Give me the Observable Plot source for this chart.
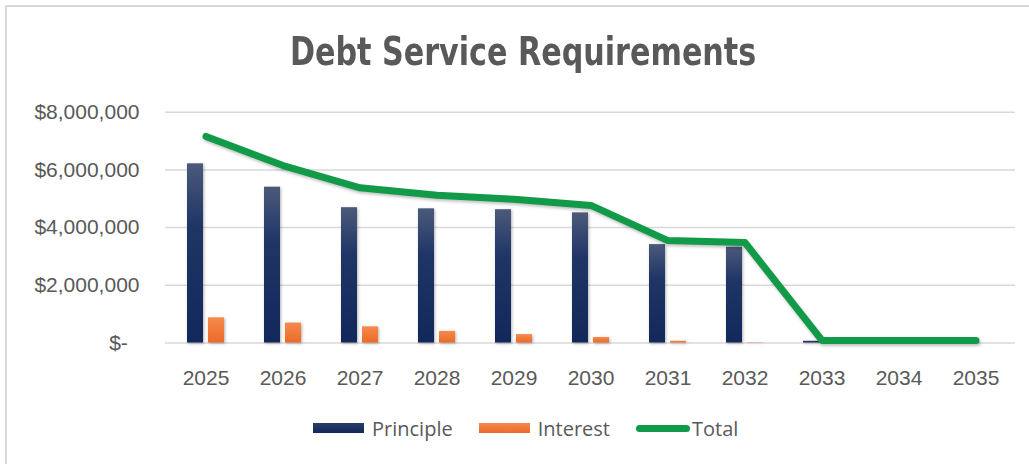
<!DOCTYPE html>
<html>
<head>
<meta charset="utf-8">
<script src="https://cdn.jsdelivr.net/npm/d3@7"></script>
<script src="https://cdn.jsdelivr.net/npm/@observablehq/plot@0.6"></script>
<style>
  html, body { margin: 0; padding: 0; background: #fff; }
  #chart { position: relative; width: 1029px; height: 464px; overflow: hidden; background: #fff; }
  #frame { position: absolute; left: 5px; top: 5px; width: 1100px; height: 600px; border: 2px solid #d9d9d9; box-sizing: border-box; }
  #titlebox { position: absolute; left: 0; top: 26px; width: 1046px; text-align: center; line-height: 52px; }
  #title { display: inline-block; transform: scaleX(0.86); transform-origin: center;
           font-family: "Liberation Sans Narrow", "DejaVu Sans Condensed", "Liberation Sans", sans-serif;
           font-weight: bold; font-size: 39px; color: #595959; }
  #plot { position: absolute; left: 0; top: 95px; }
  #legend { position: absolute; left: 313px; top: 416px; height: 24px; display: flex; align-items: center;
            font-family: "Open Sans", "Liberation Sans", sans-serif; font-size: 20px; color: #595959; }
  .item { display: flex; align-items: center; margin-right: 26px; }
  .sw { display: inline-block; margin-right: 8px; }
</style>
</head>
<body>
<div id="chart">
  <div id="frame"></div>
  <div id="titlebox"><span id="title"></span></div>
  <div id="plot"></div>
  <div id="legend"></div>
</div>
<script>
const titleText = "Debt Service Requirements";
const years = ["2025","2026","2027","2028","2029","2030","2031","2032","2033","2034","2035"];
const principle = [6210000, 5400000, 4690000, 4650000, 4620000, 4510000, 3410000, 3320000, 60000, 0, 0];
const interest  = [870000, 690000, 560000, 400000, 290000, 190000, 60000, 10000, 0, 0, 0];
const total     = [7160000, 6150000, 5380000, 5120000, 4980000, 4770000, 3550000, 3480000, 90000, 90000, 90000];
const yTicks = [0, 2000000, 4000000, 6000000, 8000000];
const seriesNames = ["Principle", "Interest", "Total"];
const seriesColors = ["#1a2f5e", "#ef7130", "#119a48"];

const table = years.map((y, i) => ({year: y, principle: principle[i], interest: interest[i], total: total[i]}));
const fmt = d => d === 0 ? "$-\u00A0\u00A0" : "$" + d3.format(",")(d);

document.getElementById("title").textContent = titleText;

const svg = Plot.plot({
  width: 1029,
  height: 300,
  marginTop: 16.7,
  marginBottom: 52.5,
  marginLeft: 165,
  marginRight: 14,
  style: {fontFamily: "'Liberation Sans', Arial, sans-serif", fontSize: "21px", color: "#595959", background: "transparent", overflow: "visible"},
  x: {type: "band", domain: years, padding: 0, axis: null, label: null},
  y: {domain: [0, 8000000], axis: null, label: null},
  marks: [
    Plot.gridY(yTicks, {stroke: "#d9d9d9", strokeOpacity: 1, strokeWidth: 1.5}),
    Plot.barY(table, {x: "year", y: "principle", fill: "url(#gradP)", insetLeft: 20, insetRight: 41}),
    Plot.barY(table, {x: "year", y: "interest", fill: "url(#gradI)", insetLeft: 41, insetRight: 20}),
    Plot.line(table, {x: "year", y: "total", stroke: seriesColors[2], strokeWidth: 7, strokeLinecap: "round", strokeLinejoin: "round"}),
    Plot.axisY(yTicks, {tickSize: 0, tickPadding: 26, tickFormat: fmt, fontSize: 21, label: null}),
    Plot.axisX({tickSize: 0, tickPadding: 27, fontSize: 21, label: null})
  ]
});

const s = d3.select(svg);
const defs = s.insert("defs", ":first-child");
const gp = defs.append("linearGradient").attr("id", "gradP").attr("x1", 0).attr("y1", 0).attr("x2", 0).attr("y2", 1);
gp.append("stop").attr("offset", "0%").attr("stop-color", "#4b5a7a");
gp.append("stop").attr("offset", "35%").attr("stop-color", "#1f3566");
gp.append("stop").attr("offset", "100%").attr("stop-color", "#13285a");
const gi = defs.append("linearGradient").attr("id", "gradI").attr("x1", 0).attr("y1", 0).attr("x2", 0).attr("y2", 1);
gi.append("stop").attr("offset", "0%").attr("stop-color", "#f58a4c");
gi.append("stop").attr("offset", "100%").attr("stop-color", "#ec6a28");
s.selectAll('g[aria-label="bar"]').style("filter", "drop-shadow(1.5px 1.5px 1.5px rgba(0,0,0,0.3))");
s.selectAll('g[aria-label="line"]').style("filter", "drop-shadow(1.5px 2px 1.5px rgba(0,0,0,0.25))");

document.getElementById("plot").appendChild(svg);

const legend = d3.select("#legend");
seriesNames.forEach((name, i) => {
  const it = legend.append("div").attr("class", "item");
  if (i < 2) {
    it.append("span").attr("class", "sw")
      .style("width", "51px").style("height", "10px")
      .style("background", i === 0 ? "linear-gradient(#2a3d68,#13285a)" : "linear-gradient(#f58a4c,#ec6a28)");
  } else {
    it.append("span").attr("class", "sw")
      .style("width", "54px").style("height", "7px").style("border-radius", "4px")
      .style("margin-right", "2px").style("background", seriesColors[2]);
  }
  it.append("span").text(name);
});
</script>
</body>
</html>
